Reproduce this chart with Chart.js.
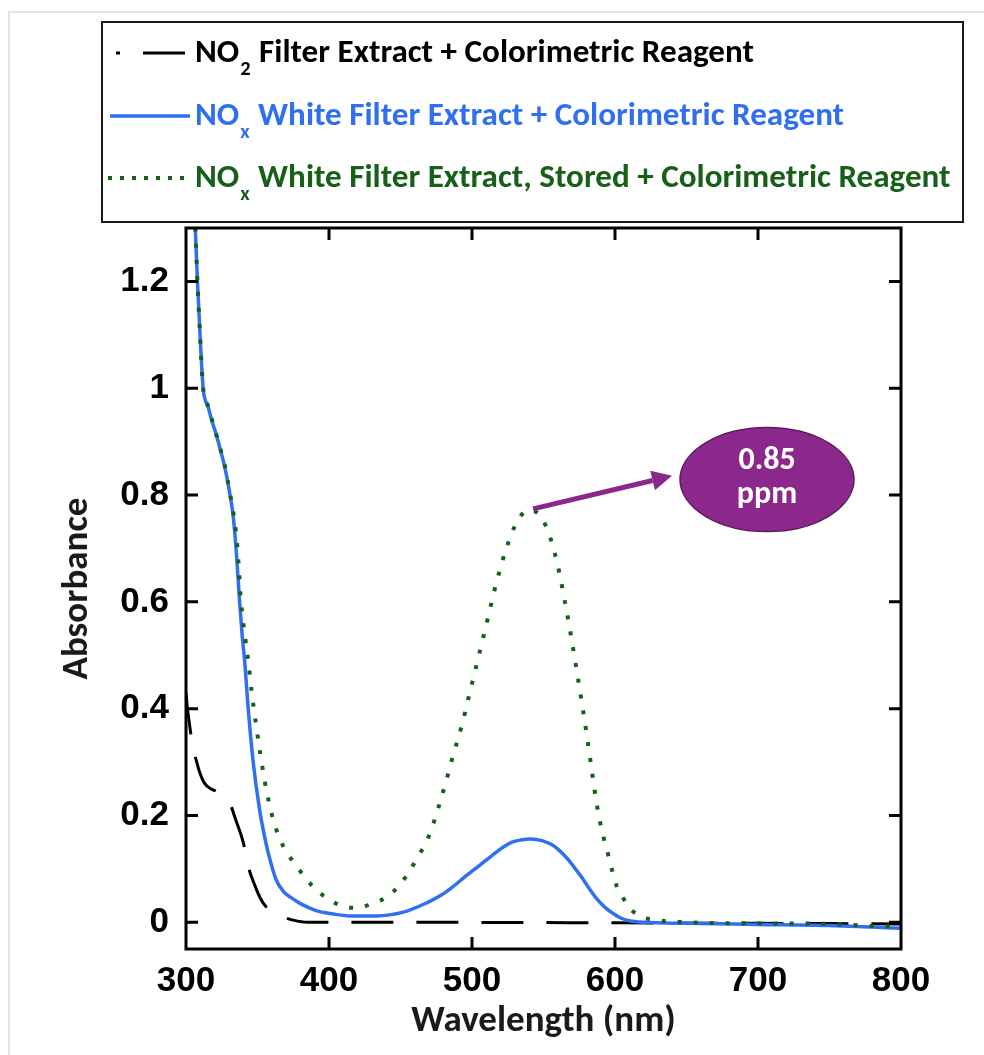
<!DOCTYPE html>
<html>
<head>
<meta charset="utf-8">
<script src="https://cdn.jsdelivr.net/npm/chart.js@4.4.1/dist/chart.umd.min.js"></script>
<style>
  html, body { margin: 0; padding: 0; background: #ffffff; }
  canvas { display: block; }
</style>
</head>
<body>
<canvas id="chart" width="984" height="1055"></canvas>
<script>
// ---------------- DATA ----------------
const xTickValues = [300, 400, 500, 600, 700, 800];
const yTickValues = [0, 0.2, 0.4, 0.6, 0.8, 1.0, 1.2];

const seriesLabels = [
  ['NO', '2', ' Filter Extract + Colorimetric Reagent'],
  ['NO', 'x', ' White Filter Extract + Colorimetric Reagent'],
  ['NO', 'x', ' White Filter Extract, Stored + Colorimetric Reagent']
];

// NO2 filter extract + reagent (black dashed)
const no2Wavelength = [300, 301, 302, 303, 304, 305.5, 307.5, 309.8, 313, 318, 321.5, 326, 330.8, 335, 340, 343.6, 348, 352, 356, 362, 368, 375, 385, 450, 600, 700, 800];
const no2Absorbance = [0.43, 0.40, 0.38, 0.36, 0.34, 0.32, 0.30, 0.279, 0.26, 0.249, 0.245, 0.236, 0.222, 0.19, 0.15, 0.104, 0.07, 0.045, 0.029, 0.018, 0.01, 0.004, 0.0, 0.0, -0.001, -0.002, -0.003];

// NOx white filter extract + reagent (blue solid)
const noxWavelength = [304, 306.5, 308, 310, 312, 315.5, 318, 321.5, 324, 327, 331, 333, 335, 337.5, 339.5, 341, 343.5, 347, 351.5, 355, 357.5, 363, 368, 373, 380, 391, 402, 415, 433, 452, 468, 478, 485, 495, 505.5, 514, 522, 528, 534, 541, 549, 556, 560, 564, 568, 572, 576, 581, 587, 593, 599, 604, 610, 620, 650, 700, 750, 780, 800];
const noxAbsorbance = [1.45, 1.30, 1.20, 1.09, 1.00, 0.965, 0.94, 0.91, 0.885, 0.854, 0.797, 0.76, 0.70, 0.60, 0.53, 0.49, 0.40, 0.30, 0.21, 0.16, 0.13, 0.08, 0.058, 0.047, 0.035, 0.022, 0.016, 0.012, 0.012, 0.019, 0.036, 0.05, 0.063, 0.085, 0.107, 0.125, 0.141, 0.150, 0.154, 0.156, 0.153, 0.145, 0.137, 0.127, 0.115, 0.101, 0.087, 0.067, 0.045, 0.028, 0.016, 0.008, 0.003, 0.0, -0.002, -0.004, -0.006, -0.009, -0.011];

// NOx white filter extract, stored + reagent (green dotted)
const storedWavelength = [304, 306.5, 308, 310, 312, 315.5, 321.5, 327, 331, 333.5, 336, 338.5, 341.5, 343.6, 346, 349, 352, 355, 358, 361, 365.5, 370, 376, 383, 389, 395, 401, 410, 420, 430, 439, 446, 451, 456.6, 463.6, 468, 473, 478, 483, 486, 493, 498, 503, 508, 512, 516, 520, 524, 528, 532, 536, 540, 545, 549, 553, 557, 561, 565, 569, 573, 577, 581, 584, 587, 590.7, 595, 598, 601, 606, 612, 619, 629, 650, 700, 750, 780, 800];
const storedAbsorbance = [1.45, 1.30, 1.20, 1.09, 1.00, 0.966, 0.91, 0.856, 0.80, 0.76, 0.70, 0.60, 0.53, 0.488, 0.43, 0.37, 0.315, 0.265, 0.225, 0.192, 0.157, 0.133, 0.11, 0.085, 0.066, 0.052, 0.041, 0.03, 0.027, 0.035, 0.045, 0.06, 0.075, 0.0975, 0.129, 0.15, 0.185, 0.228, 0.275, 0.305, 0.37, 0.425, 0.48, 0.535, 0.58, 0.625, 0.665, 0.70, 0.73, 0.752, 0.767, 0.772, 0.768, 0.756, 0.733, 0.70, 0.655, 0.60, 0.54, 0.475, 0.408, 0.337, 0.28, 0.225, 0.173, 0.129, 0.097, 0.069, 0.044, 0.022, 0.01, 0.004, 0.0, -0.002, -0.003, -0.007, -0.008];

// annotation: arrow from the stored-peak to the label bubble
const annotationText = ['0.85', 'ppm'];
const arrowFrom = [542.7, 0.774];
const arrowTo = [639.9, 0.836];
const bubbleCenter = [706.3, 0.829];

// ---------------- STYLE ----------------
const BLACK = '#000000';
const BLUE = '#2f6ff0';
const GREEN = '#17601a';
const PURPLE = '#8c288c';
const PURPLE_DARK = '#5e1a5e';
const CAL = 'Carlito, Lato, "Liberation Sans", sans-serif';
const ARIAL = '"Liberation Sans", Arial, sans-serif';

const toXY = (xs, ys) => xs.map((v, i) => ({ x: v, y: ys[i] }));

const seriesStyles = [
  { color: BLACK, width: 3, dash: [42, 23] },
  { color: BLUE, width: 3.5, dash: [] },
  { color: GREEN, width: 4, dash: [4, 12] }
];

const decor = {
  id: 'decor',
  beforeDraw(chart) {
    const ctx = chart.ctx;
    ctx.save();
    ctx.fillStyle = '#ffffff';
    ctx.fillRect(0, 0, chart.width, chart.height);
    ctx.strokeStyle = '#e3e3e3';
    ctx.lineWidth = 2;
    ctx.beginPath();
    ctx.moveTo(9, chart.height);
    ctx.lineTo(9, 12);
    ctx.lineTo(chart.width, 12);
    ctx.stroke();
    ctx.restore();
  },
  afterDraw(chart) {
    const { ctx, chartArea: a, scales: { x, y } } = chart;
    ctx.save();
    // frame
    ctx.strokeStyle = '#000';
    ctx.lineWidth = 3;
    ctx.strokeRect(a.left, a.top, a.right - a.left, a.bottom - a.top);
    // inward ticks, mirrored
    const tl = 12;
    ctx.beginPath();
    x.ticks.forEach(t => {
      const px = x.getPixelForValue(t.value);
      if (px <= a.left + 1 || px >= a.right - 1) return;
      ctx.moveTo(px, a.bottom); ctx.lineTo(px, a.bottom - tl);
      ctx.moveTo(px, a.top); ctx.lineTo(px, a.top + tl);
    });
    y.ticks.forEach(t => {
      const py = y.getPixelForValue(t.value);
      ctx.moveTo(a.left, py); ctx.lineTo(a.left + tl, py);
      ctx.moveTo(a.right, py); ctx.lineTo(a.right - tl, py);
    });
    ctx.stroke();

    // arrow
    const p0 = { x: x.getPixelForValue(arrowFrom[0]), y: y.getPixelForValue(arrowFrom[1]) };
    const p1 = { x: x.getPixelForValue(arrowTo[0]), y: y.getPixelForValue(arrowTo[1]) };
    const ang = Math.atan2(p1.y - p0.y, p1.x - p0.x);
    const headLen = 20, headHalf = 10;
    const base = { x: p1.x - headLen * Math.cos(ang), y: p1.y - headLen * Math.sin(ang) };
    ctx.strokeStyle = PURPLE;
    ctx.fillStyle = PURPLE;
    ctx.lineWidth = 5;
    ctx.beginPath();
    ctx.moveTo(p0.x, p0.y);
    ctx.lineTo(base.x, base.y);
    ctx.stroke();
    ctx.beginPath();
    ctx.moveTo(p1.x, p1.y);
    ctx.lineTo(base.x + headHalf * Math.sin(ang), base.y - headHalf * Math.cos(ang));
    ctx.lineTo(base.x - headHalf * Math.sin(ang), base.y + headHalf * Math.cos(ang));
    ctx.closePath();
    ctx.fill();

    // bubble
    const bc = { x: x.getPixelForValue(bubbleCenter[0]), y: y.getPixelForValue(bubbleCenter[1]) };
    ctx.beginPath();
    ctx.ellipse(bc.x, bc.y, 87, 52, 0, 0, Math.PI * 2);
    ctx.fillStyle = PURPLE;
    ctx.fill();
    ctx.lineWidth = 1.5;
    ctx.strokeStyle = PURPLE_DARK;
    ctx.stroke();
    ctx.fillStyle = '#ffffff';
    ctx.font = 'bold 32px ' + CAL;
    ctx.textAlign = 'center';
    ctx.textBaseline = 'middle';
    ctx.fillText(annotationText[0], bc.x, bc.y - 19);
    ctx.fillText(annotationText[1], bc.x, bc.y + 15);

    // legend box
    ctx.lineWidth = 2;
    ctx.strokeStyle = '#1a1a1a';
    ctx.strokeRect(102, 22, 861, 200);
    const rowY = [53, 116, 178];
    const baseLines = [62, 125, 187];
    // size the font so the longest row spans like the reference
    ctx.font = 'bold 24px ' + CAL;
    const probe = ctx.measureText(seriesLabels[2][0]).width + ctx.measureText(seriesLabels[2][2]).width;
    ctx.font = 'bold 15px ' + CAL;
    const probeSub = ctx.measureText(seriesLabels[2][1]).width;
    const fs = 24 * (948 - 195 - probeSub - 2) / probe;
    ctx.textAlign = 'left';
    ctx.textBaseline = 'alphabetic';
    seriesLabels.forEach((parts, i) => {
      const st = seriesStyles[i];
      // sample
      ctx.strokeStyle = st.color;
      ctx.lineWidth = st.width;
      ctx.beginPath();
      if (i === 0) {
        ctx.setLineDash([42, 23]);
        ctx.lineDashOffset = 38;
        ctx.moveTo(116, rowY[i]); ctx.lineTo(186, rowY[i]);
      } else if (i === 1) {
        ctx.setLineDash([]);
        ctx.moveTo(110, rowY[i]); ctx.lineTo(190, rowY[i]);
      } else {
        ctx.setLineDash([4, 8]);
        ctx.lineDashOffset = 0;
        ctx.moveTo(108, rowY[i]); ctx.lineTo(190, rowY[i]);
      }
      ctx.stroke();
      ctx.setLineDash([]);
      ctx.lineDashOffset = 0;
      // text
      ctx.fillStyle = st.color;
      let tx = 195;
      ctx.font = 'bold ' + fs.toFixed(2) + 'px ' + CAL;
      ctx.fillText(parts[0], tx, baseLines[i]);
      tx += ctx.measureText(parts[0]).width + 1;
      ctx.font = 'bold ' + (fs * 0.62).toFixed(2) + 'px ' + CAL;
      ctx.fillText(parts[1], tx, baseLines[i] + 13);
      tx += ctx.measureText(parts[1]).width + 1;
      ctx.font = 'bold ' + fs.toFixed(2) + 'px ' + CAL;
      ctx.fillText(parts[2], tx, baseLines[i]);
    });
    ctx.restore();
  }
};

const datasets = [
  { label: seriesLabels[0].join(''), data: toXY(no2Wavelength, no2Absorbance), order: 2 },
  { label: seriesLabels[1].join(''), data: toXY(noxWavelength, noxAbsorbance), order: 1 },
  { label: seriesLabels[2].join(''), data: toXY(storedWavelength, storedAbsorbance), order: 0 }
].map((d, i) => Object.assign(d, {
  borderColor: seriesStyles[i].color,
  borderWidth: seriesStyles[i].width,
  borderDash: seriesStyles[i].dash,
  borderCapStyle: 'butt',
  pointRadius: 0,
  fill: false,
  cubicInterpolationMode: 'monotone'
}));

new Chart(document.getElementById('chart'), {
  type: 'line',
  data: { datasets },
  options: {
    responsive: false,
    animation: false,
    devicePixelRatio: 1,
    layout: { padding: { left: 0, top: 228, right: 83, bottom: 0 } },
    plugins: { legend: { display: false }, tooltip: { enabled: false } },
    scales: {
      x: {
        type: 'linear',
        min: 300, max: 800,
        afterBuildTicks: s => { s.ticks = xTickValues.map(v => ({ value: v })); },
        afterFit: s => { s.height = 106; },
        grid: { display: false, drawTicks: false },
        border: { display: false },
        ticks: {
          padding: 11,
          color: '#000',
          font: { family: ARIAL, size: 35, weight: 'bold' },
          callback: v => String(v)
        },
        title: {
          display: true,
          text: 'Wavelength (nm)',
          color: '#1a1a1a',
          font: { family: CAL, size: 37, weight: 'bold' },
          padding: { top: 0, bottom: 11 }
        }
      },
      y: {
        type: 'linear',
        min: -0.05, max: 1.3,
        afterBuildTicks: s => { s.ticks = yTickValues.map(v => ({ value: v })); },
        afterFit: s => { s.width = 186; },
        grid: { display: false, drawTicks: false },
        border: { display: false },
        ticks: {
          padding: 17,
          color: '#000',
          font: { family: ARIAL, size: 35, weight: 'bold' },
          callback: v => String(Math.round(v * 10) / 10)
        },
        title: {
          display: true,
          text: 'Absorbance',
          color: '#1a1a1a',
          font: { family: CAL, size: 37, weight: 'bold' },
          padding: { top: 56, bottom: 0 }
        }
      }
    }
  },
  plugins: [decor]
});
</script>
</body>
</html>
